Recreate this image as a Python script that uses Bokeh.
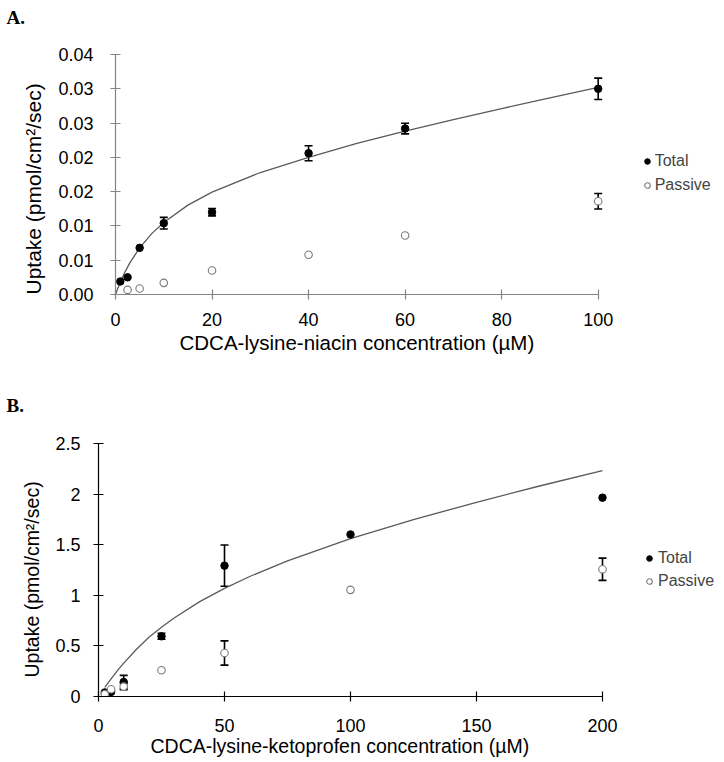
from bokeh.plotting import figure
from bokeh.models import (Range1d, FixedTicker, Whisker, ColumnDataSource, Legend,
                          LegendItem, Title, TeeHead)
from bokeh.layouts import column
from bokeh.embed import file_html
from bokeh.resources import INLINE

# ---------------- Panel A data (CDCA-lysine-niacin) ----------------
a_conc = [1, 2.5, 5, 10, 20, 40, 60, 100]
a_total = [0.0019, 0.0025, 0.0068, 0.0104, 0.0120, 0.0206, 0.0242, 0.0300]
a_total_err = [0, 0, 0, 0.00085, 0.00054, 0.0011, 0.00078, 0.00156]
a_pass_conc = [2.5, 5, 10, 20, 40, 60, 100]
a_passive = [0.00067, 0.00087, 0.0017, 0.0035, 0.0058, 0.0086, 0.0136]
a_passive_err = [0, 0, 0, 0, 0, 0, 0.00114]
a_fit_x = [0, 0.5, 1, 2, 3, 5, 7.5, 10, 15, 20, 30, 40, 50, 60, 70, 80, 90, 100]
a_fit_y = [0, 0.00094, 0.0018, 0.00334, 0.00465, 0.0068, 0.00888, 0.0105, 0.01303,
           0.01492, 0.01779, 0.0200, 0.02203, 0.02382, 0.0255, 0.02711, 0.02867, 0.0302]
a_xticks = [0, 20, 40, 60, 80, 100]
a_yticks = [0, 0.005, 0.01, 0.015, 0.02, 0.025, 0.03, 0.035]
a_ylabels = ["0.00", "0.01", "0.01", "0.02", "0.02", "0.03", "0.03", "0.04"]

# ---------------- Panel B data (CDCA-lysine-ketoprofen) ----------------
b_conc = [2.5, 5, 10, 25, 50, 100, 200]
b_total = [0.04, 0.045, 0.143, 0.595, 1.293, 1.601, 1.965]
b_total_err = [0, 0, 0.066, 0.03, 0.204, 0, 0]
b_passive = [0.023, 0.072, 0.098, 0.26, 0.43, 1.054, 1.257]
b_passive_err = [0, 0, 0.03, 0, 0.12, 0, 0.11]
b_fit_x = [2.5, 5, 7.5, 10, 15, 20, 25, 30, 40, 50, 60, 75, 100, 125, 150, 175, 200]
b_fit_y = [0.09, 0.175, 0.255, 0.33, 0.465, 0.585, 0.685, 0.775, 0.935, 1.068, 1.186,
           1.340, 1.560, 1.748, 1.919, 2.080, 2.233]
b_xticks = [0, 50, 100, 150, 200]
b_yticks = [0, 0.5, 1, 1.5, 2, 2.5]
b_ylabels = ["0", "0.5", "1", "1.5", "2", "2.5"]

FONT = "Liberation Sans"
W = 724
Y_TITLE = "Uptake (pmol/cm\u00b2/sec)"


def err_source(xs, ys, es):
    bx, up, lo = [], [], []
    for x, y, e in zip(xs, ys, es):
        if e > 0:
            bx.append(x)
            up.append(y + e)
            lo.append(y - e)
    return ColumnDataSource(dict(base=bx, upper=up, lower=lo))


def add_whisker(p, src):
    w = Whisker(source=src, base="base", upper="upper", lower="lower",
                dimension="height", line_color="black", line_width=1.6,
                upper_head=TeeHead(size=8, line_width=1.6, line_color="black"),
                lower_head=TeeHead(size=8, line_width=1.6, line_color="black"))
    p.add_layout(w)


def make_panel(cfg):
    frame_w = W - cfg["left"] - cfg["right"]
    x_end = frame_w * cfg["x_max"] / cfg["axis_px"]
    p = figure(width=W, height=cfg["height"], x_range=Range1d(0, x_end),
               y_range=Range1d(0, cfg["y_max"]), output_backend="svg",
               toolbar_location=None, min_border_left=cfg["left"],
               min_border_right=cfg["right"], min_border_top=cfg["top"],
               min_border_bottom=cfg["height"] - cfg["top"] - cfg["frame_h"],
               title=cfg["panel"] + "\n ")
    try:
        p.frame_align = False
    except Exception:
        pass
    p.grid.visible = False
    p.outline_line_color = None
    p.background_fill_color = "white"
    p.border_fill_color = "white"
    # panel letter
    p.title.align = "left"
    p.title.offset = 6 - cfg["left"]
    p.title.vertical_align = "top"
    p.title.standoff = cfg["letter_standoff"]
    p.title.text_font = "Liberation Serif"
    p.title.text_font_style = "bold"
    p.title.text_font_size = "19px"
    p.title.text_color = "black"
    p.title.text_line_height = 1.0
    for ax in (p.xaxis[0], p.yaxis[0]):
        ax.axis_line_color = cfg["axis_color"]
        ax.axis_line_width = 1.2
        ax.major_tick_line_color = cfg["axis_color"]
        ax.major_tick_line_width = 1.2
        ax.minor_tick_line_color = None
        ax.major_tick_in = 5
        ax.major_tick_out = 5
        ax.major_label_text_font = FONT
        ax.major_label_text_font_size = "18px"
        ax.major_label_text_color = "black"
        ax.axis_label = None
        ax.axis_label_standoff = 0
    xa, ya = p.xaxis[0], p.yaxis[0]
    xa.bounds = (0, cfg["x_max"])
    ya.bounds = (0, cfg["y_max"])
    xa.ticker = FixedTicker(ticks=cfg["xticks"])
    ya.ticker = FixedTicker(ticks=cfg["yticks"])
    ya.major_label_overrides = {t: s for t, s in zip(cfg["yticks"], cfg["ylabels"])}
    xa.major_label_standoff = cfg["xstand"]
    ya.major_label_standoff = cfg["ystand"]
    # x-axis title, positioned below the axis
    xt = Title(text=cfg["xlabel"], align="left", offset=cfg["xtitle_left"] - cfg["left"],
               vertical_align="top", standoff=cfg["xtitle_standoff"],
               text_font=FONT, text_font_style="normal",
               text_font_size=cfg["xtitle_fs"], text_color="black")
    p.add_layout(xt, "below")
    # y-axis title, positioned left of the tick labels
    yt = Title(text=Y_TITLE, align="left", offset=cfg["ytitle_offset"],
               vertical_align="bottom", standoff=cfg["ytitle_standoff"],
               text_font=FONT, text_font_style="normal",
               text_font_size=cfg["ytitle_fs"], text_color="black")
    p.add_layout(yt, "left")
    return p


def add_legend(p, r_tot, r_pas, loc, label_h, standoff):
    leg = Legend(items=[LegendItem(label="Total", renderers=[r_tot]),
                        LegendItem(label="Passive", renderers=[r_pas])],
                 location=loc, glyph_width=14, glyph_height=14,
                 label_height=label_h, spacing=4, padding=0, margin=0,
                 label_standoff=standoff, border_line_color=None,
                 background_fill_alpha=0, label_text_font=FONT,
                 label_text_font_size="16px")
    p.add_layout(leg)


# ---------------- Panel A ----------------
cfgA = dict(panel="A.", height=380, left=115, right=6, top=54, frame_h=240,
            axis_px=482.7, x_max=100, y_max=0.035, axis_color="#858585",
            xticks=a_xticks, yticks=a_yticks, ylabels=a_ylabels,
            xstand=13, ystand=17,
            ytitle_fs="21px", ytitle_offset=0, ytitle_standoff=22,
            xlabel="CDCA-lysine-niacin concentration (\u00b5M)", xtitle_left=179,
            xtitle_standoff=4, xtitle_fs="20.5px", letter_standoff=8)
pA = make_panel(cfgA)
pA.line(a_fit_x, a_fit_y, line_color="#5a5a5a", line_width=1.3)
add_whisker(pA, err_source(a_conc, a_total, a_total_err))
add_whisker(pA, err_source(a_pass_conc, a_passive, a_passive_err))
rA_tot = pA.scatter(a_conc, a_total, marker="circle", size=7.5,
                    fill_color="black", line_color="black")
rA_pas = pA.scatter(a_pass_conc, a_passive, marker="circle", size=7.5,
                    fill_color="white", line_color="#7a7a7a", line_width=1.1)
add_legend(pA, rA_tot, rA_pas, (524.7, 99.3), 20, 1)

# ---------------- Panel B ----------------
cfgB = dict(panel="B.", height=382, left=98, right=4, top=63, frame_h=253,
            axis_px=504, x_max=200, y_max=2.5, axis_color="black",
            xticks=b_xticks, yticks=b_yticks, ylabels=b_ylabels,
            xstand=17, ystand=13,
            ytitle_fs="19.5px", ytitle_offset=19, ytitle_standoff=19,
            xlabel="CDCA-lysine-ketoprofen concentration (\u00b5M)", xtitle_left=150,
            xtitle_standoff=0, xtitle_fs="19.5px", letter_standoff=10)
pB = make_panel(cfgB)
pB.line(b_fit_x, b_fit_y, line_color="#5a5a5a", line_width=1.3)
add_whisker(pB, err_source(b_conc, b_total, b_total_err))
add_whisker(pB, err_source(b_conc, b_passive, b_passive_err))
rB_tot = pB.scatter(b_conc, b_total, marker="circle", size=7.5,
                    fill_color="black", line_color="black")
rB_pas = pB.scatter(b_conc, b_passive, marker="circle", size=7.5,
                    fill_color="white", line_color="#7a7a7a", line_width=1.1)
add_legend(pB, rB_tot, rB_pas, (544.0, 106.0), 19, 2)

layout = column(pA, pB, spacing=0)
open("out.html", "w").write(file_html(layout, INLINE))
